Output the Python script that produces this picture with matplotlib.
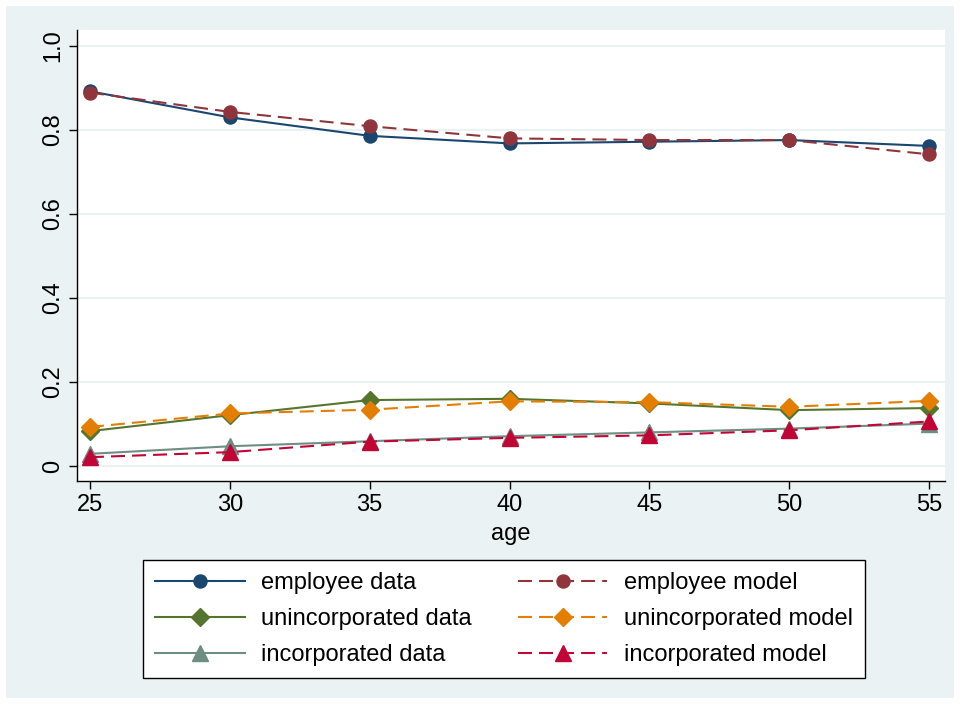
import numpy as np
import matplotlib as mpl
mpl.use('Agg')
import matplotlib.pyplot as plt
from matplotlib.patches import Rectangle

plt.rcParams['font.family'] = ['Liberation Sans', 'DejaVu Sans']

age = [25, 30, 35, 40, 45, 50, 55]

employee_data = [0.892, 0.830, 0.786, 0.768, 0.772, 0.776, 0.762]
employee_model = [0.889, 0.843, 0.809, 0.780, 0.776, 0.776, 0.742]
unincorporated_data = [0.083, 0.121, 0.157, 0.160, 0.149, 0.133, 0.138]
unincorporated_model = [0.093, 0.125, 0.134, 0.154, 0.152, 0.141, 0.155]
incorporated_data = [0.029, 0.047, 0.059, 0.071, 0.080, 0.089, 0.101]
incorporated_model = [0.021, 0.033, 0.058, 0.067, 0.073, 0.085, 0.106]

yticks = [0, 0.2, 0.4, 0.6, 0.8, 1.0]
yticklabels = ['0', '0.2', '0.4', '0.6', '0.8', '1.0']

navy = '#1a476f'
maroon = '#90353b'
green = '#55752f'
orange = '#e37e00'
teal = '#6e8e84'
cranberry = '#c10534'
bg = '#eaf2f3'

fig = plt.figure(figsize=(9.6, 7.04), dpi=100, facecolor='white')
fig.patches.append(Rectangle((6 / 960, 6 / 704), 948 / 960, 692 / 704,
                             transform=fig.transFigure, facecolor=bg,
                             edgecolor='none', zorder=-10))

ax = fig.add_axes([77 / 960, 1 - 481 / 704, 868 / 960, 451 / 704])
ax.set_facecolor('white')

series = [
    (employee_data, navy, '-', 'o', 'employee data'),
    (employee_model, maroon, '--', 'o', 'employee model'),
    (unincorporated_data, green, '-', 'D', 'unincorporated data'),
    (unincorporated_model, orange, '--', 'D', 'unincorporated model'),
    (incorporated_data, teal, '-', '^', 'incorporated data'),
    (incorporated_model, cranberry, '--', '^', 'incorporated model'),
]
msizes = {'o': 9.4, 'D': 9.0, '^': 11.0}

handles = []
for vals, col, ls, mk, lab in series:
    h = ax.plot(age, vals, linestyle=ls, color=col, marker=mk,
                markersize=msizes[mk], linewidth=1.5, label=lab,
                dashes=(6.7, 3.4) if ls == '--' else (None, None))[0]
    handles.append(h)

ax.set_xlim(24.535, 55.57)
ax.set_ylim(-0.0357, 1.038)
ax.set_xticks(age)
ax.set_yticks(yticks)
ax.set_yticklabels(yticklabels, rotation=90, va='center')
ax.yaxis.grid(True, color=bg, linewidth=1.5)
ax.set_axisbelow(True)
for s in ['top', 'right']:
    ax.spines[s].set_visible(False)
for s in ['left', 'bottom']:
    ax.spines[s].set_linewidth(1.0)
ax.tick_params(axis='both', labelsize=17, length=6, width=1, direction='out')
ax.set_xlabel('age', fontsize=17, labelpad=5)

# column-major order: data left, model right
order = [0, 2, 4, 1, 3, 5]
lgd = fig.legend([handles[i] for i in order],
                 [handles[i].get_label() for i in order],
                 ncol=2, fontsize=17, loc='upper left',
                 bbox_to_anchor=(143 / 960, 1 - 560 / 704),
                 frameon=True, fancybox=False, framealpha=1,
                 facecolor='white', handlelength=3.8, handletextpad=0.7,
                 columnspacing=1.95, labelspacing=0.6, borderpad=0.5,
                 borderaxespad=0)
lgd.get_frame().set_edgecolor('black')
lgd.get_frame().set_linewidth(1.0)

plt.savefig('out.png', dpi=100, facecolor='white')
